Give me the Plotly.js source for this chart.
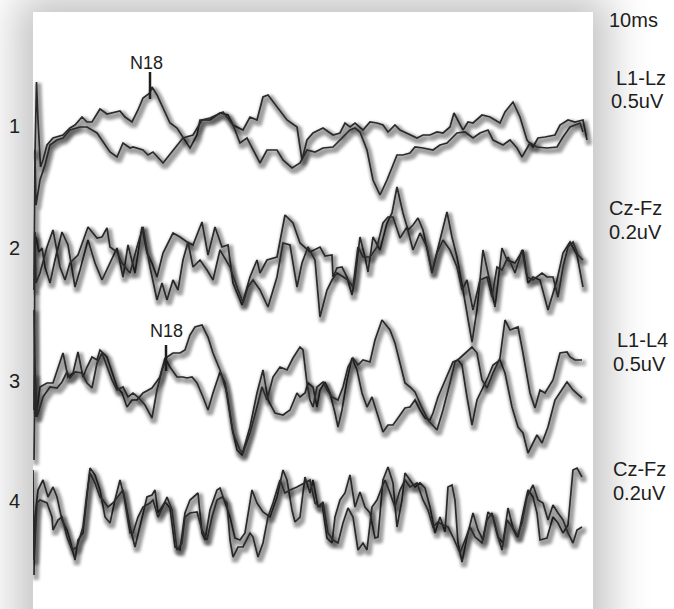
<!DOCTYPE html>
<html><head><meta charset="utf-8">
<script src="https://cdn.plot.ly/plotly-3.0.1.min.js"></script>
<style>
html,body{margin:0;padding:0;width:674px;height:609px;overflow:hidden;background:#fff;}
#panel{position:absolute;left:33px;top:12px;width:560px;height:660px;background:#fff;box-shadow:0 0 40px 16px rgba(0,0,0,0.24);}
#chart{position:absolute;left:0;top:0;width:674px;height:609px;}
.scatterlayer .js-line{filter:url(#glow);}
</style></head><body>
<svg width="0" height="0" style="position:absolute"><defs>
<filter id="glow" x="-5%" y="-25%" width="110%" height="150%">
<feMorphology in="SourceAlpha" operator="dilate" radius="1.8" result="d"/>
<feGaussianBlur in="d" stdDeviation="1.8" result="bl"/>
<feOffset in="bl" dx="2" dy="3" result="b"/>
<feFlood flood-color="#000" flood-opacity="0.38"/>
<feComposite in2="b" operator="in"/>
<feMerge><feMergeNode/><feMergeNode in="SourceGraphic"/></feMerge>
</filter></defs></svg>
<div id="panel"></div>
<div id="chart"></div>
<script>
// ---- data: time in samples, amplitude in a.u. (negative = up, EEG convention) ----
const channelNumbers = ['1','2','3','4'];
const channelNames = ['L1-Lz','Cz-Fz','L1-L4','Cz-Fz'];
const channelGains = ['0.5uV','0.2uV','0.5uV','0.2uV'];
const timeScaleLabel = '10ms';

// channel 1
const ch1a_t = [35,36.5,38,40.5,43,47,53,57,63,70,75,82,87,92,100,107,112,120,125,132,138,143,150,152,157,163,170,177,183,190,197,200,210,220,228,233,243,250,257,263,268,277,287,297,302,307,313,323,333,340,345,350,355,363,370,377,383,388,395,400,407,417,423,430,437,443,450,454,463,468,473,482,490,500,505,513,520,527,533,538,545,555,560,568,575,583,587];
const ch1a_v = [29,-44,-6,41,34,19,12,11,9,2,-1,-9,-4,-4,-17,-12,-13,-15,-9,-4,-16,-28,-33,-39,-31,-18,-3,2,11,22,9,-6,-6,-13,-11,-1,4,-9,-6,-29,-31,-19,-6,1,34,14,7,2,9,7,-3,1,-3,4,-4,-3,-1,6,-1,4,7,12,9,9,6,7,1,-13,4,-4,-3,-11,-9,-3,-14,-24,-9,14,21,12,11,9,-1,-6,-4,-6,14];
const ch1b_t = [34,35,36,40,45,50,57,63,70,80,87,97,110,117,123,130,133,143,148,153,163,173,183,193,202,210,223,233,240,247,253,260,267,277,283,292,300,307,315,323,333,343,350,355,360,367,373,380,387,397,403,410,415,423,433,440,447,457,465,473,480,488,493,503,510,517,522,530,537,547,557,563,570,580,583];
const ch1b_v = [164,24,79,54,39,19,14,12,4,1,1,7,26,31,17,22,21,24,29,26,37,24,12,9,-6,-8,-14,-1,17,12,24,37,24,24,34,42,37,24,26,22,21,11,4,2,6,24,54,69,54,29,29,27,21,22,24,19,17,7,6,12,7,4,14,19,14,22,31,17,21,22,21,11,1,-3,6];

// channel 2
const ch2a_t = [36,39,42,45,50,55,62,68,75,80,88,95,102,108,117,123,128,135,142,147,152,157,163,173,180,187,193,202,208,215,222,228,233,242,250,257,260,267,277,285,293,300,310,320,325,332,333,337,342,347,352,355,360,365,368,373,380,387,392,397,403,408,413,418,423,432,438,447,452,457,463,468,472,477,483,488,495,502,507,515,523,528,533,540,548,557,563,570,577,583];
const ch2a_v = [-11,4,0,19,35,12,-16,-3,39,22,-8,15,32,19,0,29,-3,25,-21,5,15,29,5,-15,-11,-6,-3,-26,7,-21,-1,-3,35,57,29,12,25,12,9,-33,-25,-5,4,-1,8,7,29,20,19,29,47,30,-11,9,24,-11,2,-25,-35,-61,-35,-18,-23,-30,-18,24,-1,-36,-11,9,42,72,94,62,2,25,59,0,12,15,2,35,29,32,62,32,5,-6,7,39];
const ch2b_t = [34,35,36,40,47,53,60,65,70,78,88,97,102,107,110,117,122,130,137,143,150,157,162,167,173,178,183,188,193,200,207,213,220,230,237,243,248,253,260,268,277,283,290,297,302,308,315,320,327,332,337,343,348,353,358,363,370,377,383,388,393,400,407,413,420,427,432,437,443,450,457,462,467,473,480,487,492,497,502,508,515,522,527,533,542,547,553,558,563,568,573,578,583];
const ch2b_v = [162,-16,35,25,-1,-18,19,32,15,7,-21,-10,-11,-20,-1,4,15,25,-1,-21,19,52,35,52,32,42,12,-6,19,12,22,32,2,19,39,55,39,32,42,59,29,-5,-3,39,15,-1,12,69,42,32,25,29,32,39,-1,9,9,-1,-25,-31,-31,-10,-21,2,-15,-1,25,5,-8,2,19,42,32,62,32,29,49,19,22,9,25,2,29,32,25,29,29,49,19,-1,-6,7,12];

// channel 3
const ch3a_t = [34,36,40,47,53,58,63,68,73,78,83,87,92,97,100,107,112,117,122,127,132,137,143,152,160,165,170,177,183,187,192,197,203,208,213,220,225,232,237,242,250,257,263,268,275,283,290,297,300,305,308,313,317,320,325,330,335,338,342,347,352,357,362,367,372,377,383,388,393,398,405,410,415,420,425,430,433,438,447,453,458,462,467,472,477,482,488,493,500,505,512,518,523,528,533,537,542,548,555,567,573,582];
const ch3a_v = [-71,36,6,2,2,-14,-28,-4,-8,-29,-4,-14,-24,-21,-31,-24,-8,6,12,26,19,19,12,7,-4,-23,-14,-4,-4,-3,-4,2,16,29,12,-9,2,46,69,74,46,12,-11,19,32,34,29,12,16,12,2,6,26,9,1,12,32,46,29,-1,-23,-11,12,26,16,32,51,44,44,37,27,26,19,29,37,39,32,16,-4,-19,-21,-16,16,44,19,9,-4,-16,-21,-8,26,46,52,72,62,54,62,46,19,1,9,17];
const ch3b_t = [34,35,37,43,50,57,62,67,70,75,82,87,92,97,102,107,112,117,123,128,133,138,145,152,157,162,167,173,180,185,190,195,202,208,213,220,227,233,240,243,250,257,262,267,273,280,287,293,300,303,307,310,313,317,323,327,332,338,343,348,353,358,363,370,375,382,390,395,400,405,410,415,422,428,437,443,450,455,460,465,472,477,482,487,493,500,505,510,518,523,530,535,540,545,553,560,567,570,575,582];
const ch3b_v = [79,-6,36,16,6,7,1,-9,-3,-9,-8,2,7,-18,-28,-14,-1,9,6,16,12,16,24,37,9,-11,-24,-28,-28,-31,-46,-54,-56,-44,-28,-11,12,52,69,72,52,26,6,19,-4,-14,-11,-23,-34,-31,2,19,26,6,1,9,16,19,6,-14,-23,-16,-21,-19,-41,-61,-51,-38,-18,2,6,11,27,39,49,29,2,-19,-23,-28,-34,-28,-1,7,-8,-23,-61,-51,-54,-28,12,27,9,12,-1,-28,-29,-24,-21,-21];

// channel 4
const ch4a_t = [34,35,38,43,48,53,57,62,67,70,75,78,83,87,90,95,100,105,110,115,120,125,130,135,140,147,152,155,158,165,170,175,180,185,190,198,202,205,210,217,220,225,230,235,240,245,252,257,263,270,277,283,287,292,295,300,305,310,313,318,322,327,332,335,340,345,350,355,360,365,370,375,378,383,388,393,397,402,405,410,415,420,425,430,435,440,445,448,452,455,458,462,467,473,478,483,488,493,498,503,508,513,518,523,528,533,537,540,547,553,558,563,568,573,577,582];
const ch4a_v = [74,16,-11,-21,-4,-14,-4,19,29,39,59,39,32,-4,-33,-26,-11,16,22,-1,-21,-1,26,46,26,-4,-6,-11,12,1,7,46,49,12,-1,-8,32,39,9,-11,-13,2,16,37,39,32,-11,2,11,16,-4,-31,-21,9,21,16,-24,-8,-21,6,2,37,42,16,-1,-8,-26,6,-9,6,12,37,36,-21,-34,-18,26,-1,-28,-21,-14,-18,-13,6,32,16,31,-14,-16,-1,42,61,36,12,29,39,11,16,36,42,7,27,36,12,-11,-4,12,39,37,16,22,32,24,-31,-33,-24];
const ch4b_t = [33,34,35,37,40,47,52,53,58,62,67,72,77,80,83,87,90,95,100,103,108,113,120,123,130,133,138,143,150,153,158,163,167,172,177,182,185,190,197,202,207,212,217,222,227,230,233,238,243,250,253,258,263,268,273,280,285,290,297,305,310,315,320,323,328,333,338,343,348,353,358,363,367,372,377,382,385,390,395,400,405,410,417,423,428,433,438,443,448,453,460,465,470,475,482,487,492,497,502,507,512,517,522,527,533,538,543,548,553,558,563,568,573,577,582];
const ch4b_v = [-31,59,42,2,-1,2,16,29,19,16,36,49,46,36,26,-8,-28,-18,-4,-1,6,2,-8,-11,32,32,16,6,2,-1,16,6,-4,9,49,42,16,12,11,29,39,16,-1,-4,2,39,56,46,46,32,36,56,42,16,2,-21,-8,-11,-14,-18,-21,2,6,1,32,39,42,22,7,16,49,42,49,6,-1,-14,-21,-8,6,-11,-21,-14,-18,-1,9,26,21,24,26,36,52,39,26,36,42,19,12,32,49,19,26,36,22,-4,-16,-1,2,19,4,12,19,32,42,29,26];

// N18 peak latencies (samples) and the channel they belong to
const n18Latency = [150, 166];
const n18Channel = [0, 2];

// ---- layout constants (positions, not data) ----
const chOffset = [126, 248, 381, 501];
const n18TickSpan = [[-54,-27],[-36,-10]];
const n18TextDy = [-63, -50];
const numberX = 14;
const nameX = [614, 607, 615, 611];
const nameY = [78, 208, 340, 469];
const gainX = [609, 607, 611, 611];
const gainY = [101, 232, 364, 493];

const series = [
  [ch1a_t, ch1a_v, 0], [ch1b_t, ch1b_v, 0],
  [ch2a_t, ch2a_v, 1], [ch2b_t, ch2b_v, 1],
  [ch3a_t, ch3a_v, 2], [ch3b_t, ch3b_v, 2],
  [ch4a_t, ch4a_v, 3], [ch4b_t, ch4b_v, 3]
];
const traces = series.map(([t, v, c]) => ({
  x: t, y: v.map(a => a + chOffset[c]), type: 'scatter', mode: 'lines',
  line: {color: '#2a2a2a', width: 1.7}, hoverinfo: 'skip', showlegend: false
}));

const L = 33, W = 560;
const px = p => (p - L) / W;
const font = {family: 'Liberation Sans, Arial, sans-serif', size: 20, color: '#1e1e1e'};
const ann = [];
channelNumbers.forEach((s, i) => ann.push({text: s, xref: 'paper', yref: 'y', x: px(numberX), y: chOffset[i], showarrow: false, font, xanchor: 'center', yanchor: 'middle'}));
channelNames.forEach((s, i) => ann.push({text: s, xref: 'paper', yref: 'y', x: px(nameX[i]), y: nameY[i], showarrow: false, font, xanchor: 'left', yanchor: 'middle'}));
channelGains.forEach((s, i) => ann.push({text: s, xref: 'paper', yref: 'y', x: px(gainX[i]), y: gainY[i], showarrow: false, font, xanchor: 'left', yanchor: 'middle'}));
ann.push({text: timeScaleLabel, xref: 'paper', yref: 'y', x: px(607), y: 20, showarrow: false, font, xanchor: 'left', yanchor: 'middle'});
const shapes = [];
n18Latency.forEach((t, i) => {
  const c = n18Channel[i];
  shapes.push({type: 'line', xref: 'x', yref: 'y', x0: t, x1: t, y0: chOffset[c] + n18TickSpan[i][0], y1: chOffset[c] + n18TickSpan[i][1], line: {color: '#1e1e1e', width: 2.5}});
  ann.push({text: 'N18', xref: 'x', yref: 'y', x: t - 4 + i * 4, y: chOffset[c] + n18TextDy[i], showarrow: false, font: Object.assign({}, font, {size: 18}), xanchor: 'center', yanchor: 'middle'});
});

Plotly.newPlot('chart', traces, {
  width: 674, height: 609,
  margin: {l: L, r: 674 - L - W, t: 12, b: 0, pad: 0},
  paper_bgcolor: 'rgba(0,0,0,0)', plot_bgcolor: 'rgba(0,0,0,0)',
  xaxis: {range: [L, L + W], visible: false, fixedrange: true},
  yaxis: {range: [609, 12], visible: false, fixedrange: true},
  annotations: ann, shapes: shapes, showlegend: false
}, {staticPlot: true, displayModeBar: false});
</script>
</body></html>
